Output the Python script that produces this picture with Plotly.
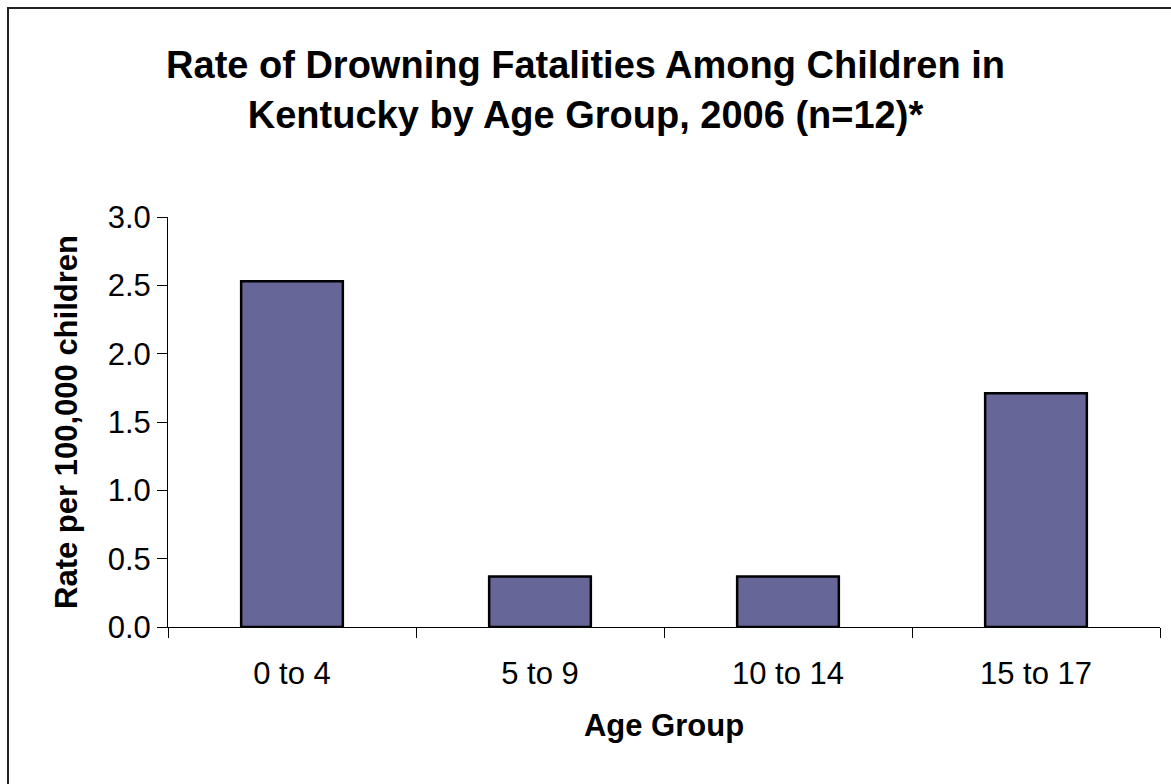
import plotly.graph_objects as go

# Drowning fatality rates by age group, Kentucky 2006
age_groups = ["0 to 4", "5 to 9", "10 to 14", "15 to 17"]
rates = [2.53, 0.37, 0.37, 1.71]
y_ticks = [0.0, 0.5, 1.0, 1.5, 2.0, 2.5, 3.0]

FONT = "Liberation Sans, Arial, sans-serif"

fig = go.Figure(
    go.Bar(
        x=age_groups,
        y=rates,
        marker=dict(color="#666699", line=dict(color="black", width=2.5)),
        width=0.41,
    )
)

fig.update_layout(
    width=1171,
    height=784,
    margin=dict(l=168, r=11, t=217, b=157),
    paper_bgcolor="white",
    plot_bgcolor="white",
    showlegend=False,
    font=dict(family=FONT, color="black", size=31),
    title=dict(
        text="<b>Rate of Drowning Fatalities Among Children in<br>Kentucky by Age Group, 2006 (n=12)*</b>",
        x=0.5,
        xref="container",
        xanchor="center",
        y=0.900,
        yref="container",
        yanchor="top",
        font=dict(family=FONT, size=38, color="black"),
    ),
    xaxis=dict(
        showline=True,
        linecolor="black",
        linewidth=1,
        ticks="outside",
        tickson="boundaries",
        ticklen=10,
        tickcolor="black",
        showgrid=False,
        tickfont=dict(size=31),
        ticklabelstandoff=19,
        title=dict(text="<b>Age Group</b>", font=dict(size=31), standoff=24),
    ),
    yaxis=dict(
        range=[0, 3],
        tickvals=y_ticks,
        tickformat=".1f",
        showline=True,
        linecolor="black",
        linewidth=1,
        ticks="outside",
        ticklen=10,
        tickcolor="black",
        showgrid=False,
        zeroline=False,
        tickfont=dict(size=31),
        ticklabelstandoff=0,
        title=dict(text="<b>Rate per 100,000 children</b>", font=dict(size=31), standoff=20),
    ),
)

# Outer chart frame
fig.add_shape(
    type="rect",
    xref="paper",
    yref="paper",
    x0=(8 - 168) / 992,
    x1=1.2,
    y0=-0.6,
    y1=1 + (217 - 8) / 410,
    line=dict(color="#222222", width=2),
    fillcolor="rgba(0,0,0,0)",
    layer="below",
)

fig.write_html("out.html")
